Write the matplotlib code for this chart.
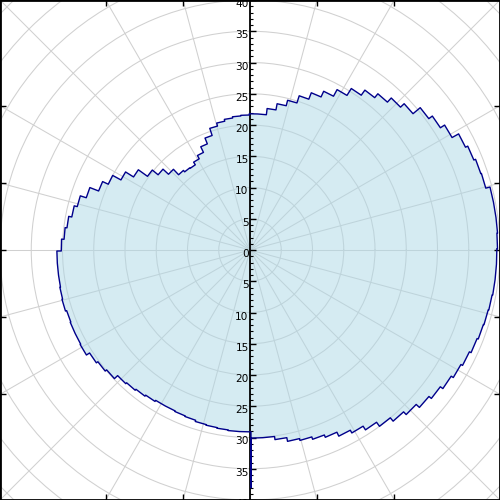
import numpy as np
import matplotlib
matplotlib.use("Agg")
import matplotlib.pyplot as plt
from matplotlib.ticker import FixedLocator, FuncFormatter
import matplotlib.transforms as mtransforms

# ---------------- data ----------------
start_angle_deg = -89.7        # first bin starts at the bottom, goes counter-clockwise
bin_width_deg = 3.6            # 100 bins around the circle
radii = [
    # -90 .. 0 deg
    30.1, 30.1, 30.6, 31.2, 31.5, 31.9, 32.3, 33.0, 33.5, 34.2,
    35.0, 35.7, 36.3, 37.0, 37.5, 38.0, 38.4, 38.7, 39.0, 39.2,
    39.3, 39.4, 39.5, 39.5, 39.5,
    # 0 .. 90 deg
    39.6, 39.7, 39.7, 39.7, 39.0, 38.9, 38.6, 38.2, 37.0, 36.2,
    35.5, 34.0, 33.2, 32.3, 31.5, 30.5, 29.2, 28.0, 27.0, 25.9,
    24.7, 23.8, 22.8, 21.8, 21.8,
    # 90 .. 180 deg
    21.6, 21.5, 21.3, 21.0, 20.5, 19.3, 18.3, 17.3, 16.7, 16.2,
    16.3, 16.6, 17.8, 19.0, 20.2, 22.0, 23.5, 25.0, 26.0, 27.5,
    28.5, 29.0, 29.5, 29.8, 30.2,
    # 180 .. 270 deg
    30.9, 30.9, 30.9, 31.0, 31.1, 30.9, 31.0, 31.0, 31.1, 30.5,
    30.2, 29.9, 29.2, 29.0, 28.8, 28.6, 28.4, 28.4, 28.5, 28.6,
    28.8, 28.9, 29.0, 29.1, 29.1,
]
spike_radius = 38.0            # zero-width spike at the start angle

view_limit = 40
grid_radii = [5, 10, 15, 20, 25, 30, 35, 40, 45, 50, 55]
grid_angles_deg = list(range(0, 360, 15))
axis_major_ticks = list(range(-40, 41, 5))
axis_minor_ticks = list(range(-40, 41, 1))

fill_color = (173 / 255, 216 / 255, 230 / 255, 0.5)
edge_color = "#00008b"
grid_color = "#d0d0d0"

# ---------------- figure ----------------
fig = plt.figure(figsize=(5, 5), dpi=100)

# polar axes, larger than the figure so its grid reaches the corners
R = 57.0
half = R / (2 * view_limit)
ax_p = fig.add_axes([0.5 - half, 0.5 - half, 2 * half, 2 * half], projection="polar")
ax_p.set_ylim(0, R)
ax_p.set_xticks(np.deg2rad(grid_angles_deg))
ax_p.set_xticklabels([])
ax_p.set_yticks(grid_radii)
ax_p.set_yticklabels([])
ax_p.set_axisbelow(True)
ax_p.grid(True, color=grid_color, lw=0.75)
ax_p.spines["polar"].set_visible(False)
ax_p.set_facecolor("white")

n = len(radii)
theta_edges = np.deg2rad(start_angle_deg + bin_width_deg * np.arange(n + 1))
th = np.repeat(theta_edges, 2)[1:-1]
rr = np.repeat(np.asarray(radii, float), 2)
th = np.concatenate([[theta_edges[0]], th, [theta_edges[0]]])
rr = np.concatenate([[spike_radius], rr, [spike_radius]])
ax_p.fill(th, rr, facecolor=fill_color, edgecolor="none", zorder=2)

# square frame with ticks where the angular grid meets the edges
ax_f = fig.add_axes([0, 0, 1, 1])
ax_f.set_xlim(-view_limit, view_limit)
ax_f.set_ylim(-view_limit, view_limit)
ax_f.patch.set_visible(False)
edge_angles = np.deg2rad([a for a in grid_angles_deg if a <= 30] + [-15, -30])
edge_ticks = sorted(view_limit * np.tan(edge_angles))
ax_f.set_xticks([t for t in edge_ticks if abs(t) > 1e-9])
ax_f.set_yticks(edge_ticks)
ax_f.tick_params(direction="in", length=4, width=1, top=True, right=True,
                 labelbottom=False, labelleft=False)
for s in ax_f.spines.values():
    s.set_linewidth(2.0)
    s.set_color("black")

# floating radial axis along the vertical through the centre
ax_a = fig.add_axes([0, 0, 1, 1])
ax_a.set_xlim(-view_limit, view_limit)
ax_a.set_ylim(-view_limit, view_limit)
ax_a.patch.set_visible(False)
for k in ["right", "top", "bottom"]:
    ax_a.spines[k].set_visible(False)
ax_a.spines["left"].set_position(("data", 0))
ax_a.spines["left"].set_linewidth(1.3)
ax_a.set_xticks([])
ax_a.yaxis.set_major_locator(FixedLocator(axis_major_ticks))
ax_a.yaxis.set_minor_locator(FixedLocator(axis_minor_ticks))
ax_a.yaxis.set_major_formatter(FuncFormatter(lambda v, p: f"{abs(v):.0f}"))
ax_a.tick_params(axis="y", which="major", direction="in", length=4.5, width=1,
                 labelsize=7.6, pad=1)
ax_a.tick_params(axis="y", which="minor", direction="in", length=2.5, width=0.8)

# outline drawn in a top polar overlay so the spike shows beside the axis line
ax_o = fig.add_axes([0.5 - half, 0.5 - half, 2 * half, 2 * half], projection="polar")
ax_o.set_ylim(0, R)
ax_o.patch.set_visible(False)
ax_o.axis("off")
ax_o.plot(th, rr, color=edge_color, lw=1.0)

fig.canvas.draw()
off = mtransforms.ScaledTranslation(0, -3 / 100, fig.dpi_scale_trans)
for t in ax_a.yaxis.get_major_ticks():
    t.label1.set_transform(t.label1.get_transform() + off)

fig.savefig("out.png", dpi=100)
